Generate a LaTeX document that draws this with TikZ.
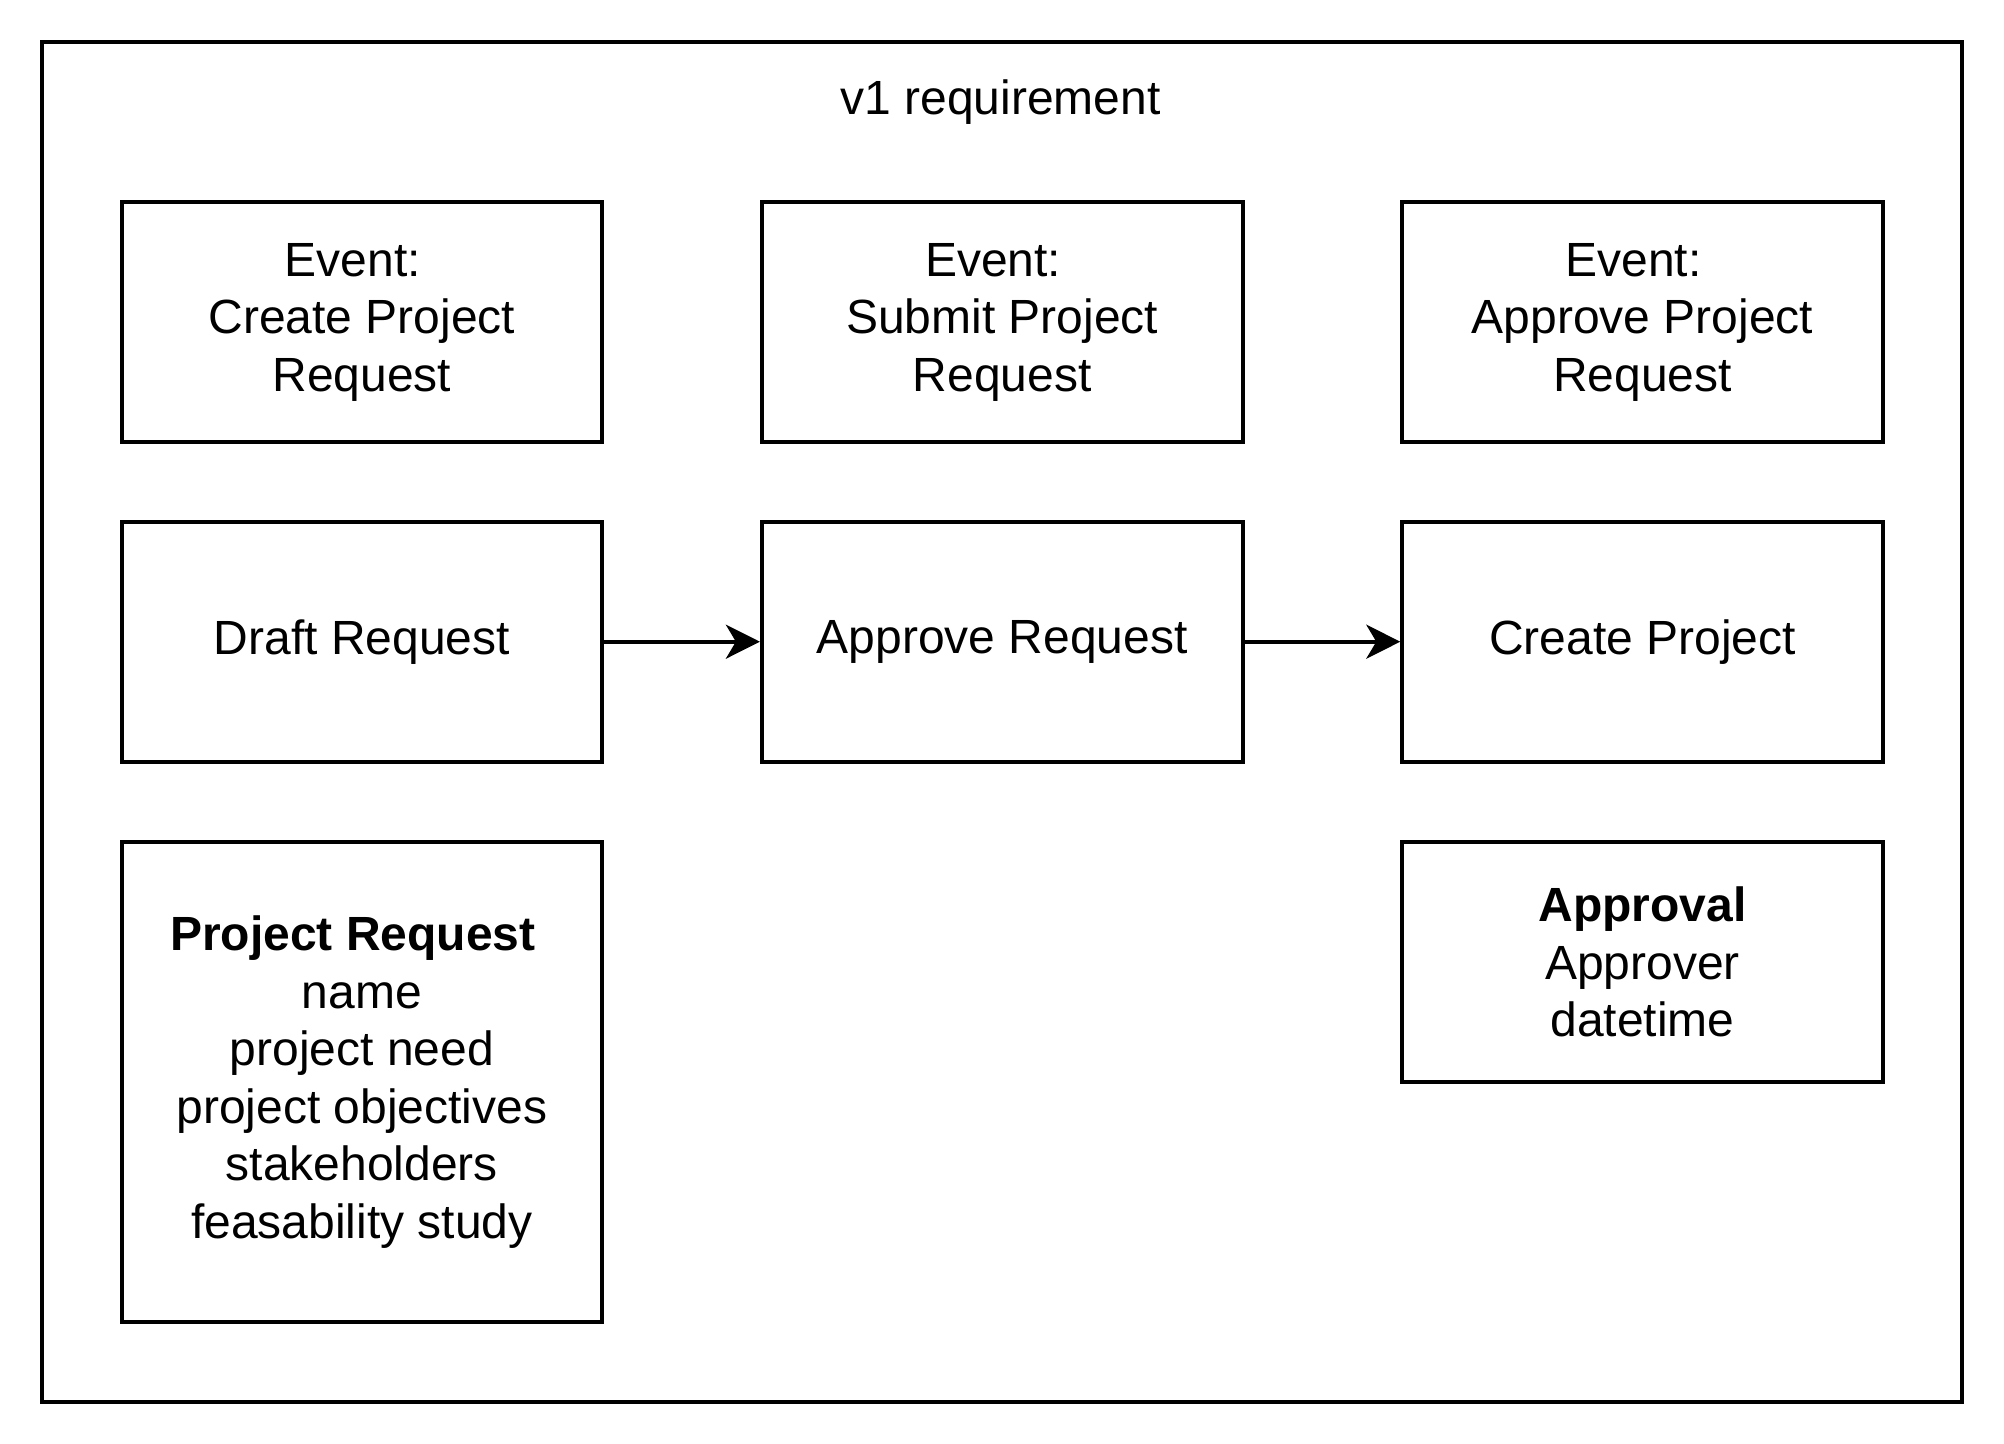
\documentclass[tikz,border=0pt]{standalone}
\usepackage{fontspec}
\setmainfont{Liberation Sans}
\usetikzlibrary{arrows.meta}
\begin{document}
\begin{tikzpicture}[x=0.5pt,y=-0.5pt,
  every node/.style={font=\fontsize{24pt}{28.8pt}\selectfont, inner sep=0pt},
  frame/.style={draw=black, line width=2pt},
  box/.style={draw=black, line width=2pt, minimum width=240.3pt, minimum height=120.15pt, align=center},
  tallbox/.style={box, minimum height=239.7pt},
  flow/.style={line width=2pt, -{Stealth[length=17pt,width=17pt,inset=5pt]}}]
\useasboundingbox (0,0) rectangle (2004,1444);
\draw[frame] (42.2,42.2) rectangle (1962.1,1402.2);
\node (title) at (1000.5,102.5) {v1 requirement};
\newcommand{\evt}{Event:\hspace*{9pt}}
\node[box] (e1) at (361.8,322.1) {\evt\\Create Project\\Request};
\node[box] (e2) at (1002.2,322.1) {\evt\\Submit Project\\Request};
\node[box] (e3) at (1642.6,322.1) {\evt\\Approve Project\\Request};
\node[box] (a1) at (361.8,641.7) {Draft Request};
\node[box] (a2) at (1002.2,641.7) {Approve Request};
\node[box] (a3) at (1642.6,641.7) {Create Project};
\node[tallbox] (pr) at (361.8,1082) {\textbf{Project Request}\hspace*{9pt}\\name\\project need\\project objectives\\stakeholders\\feasability study};
\node[box] (ap) at (1642.6,961.9) {\textbf{Approval}\\Approver\\datetime};
\draw[flow] (a1) -- (a2);
\draw[flow] (a2) -- (a3);
\end{tikzpicture}
\end{document}
